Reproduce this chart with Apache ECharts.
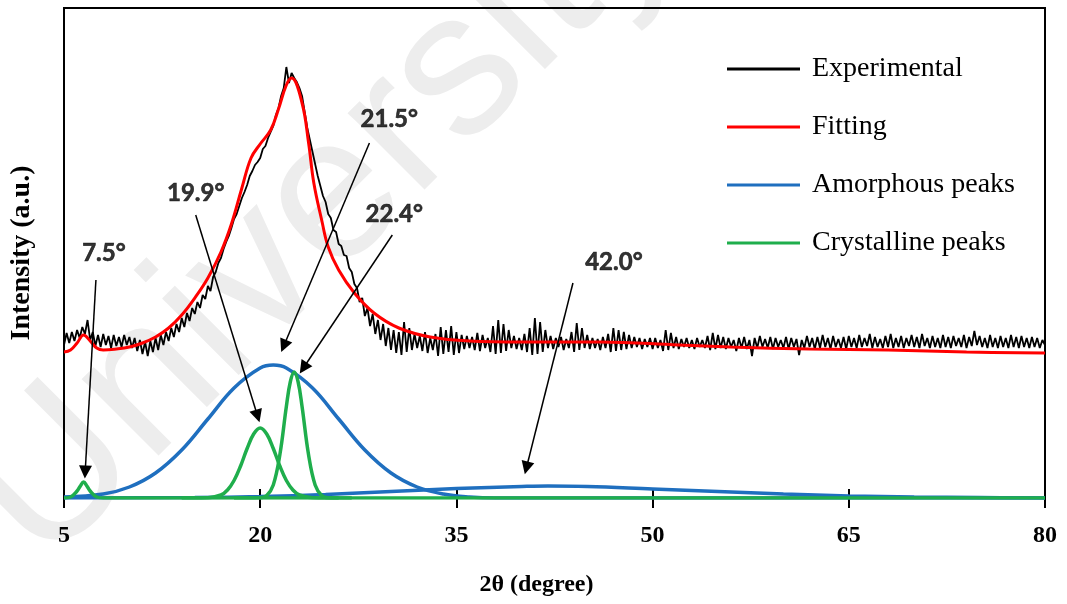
<!DOCTYPE html>
<html>
<head>
<meta charset="utf-8">
<script src="https://cdn.jsdelivr.net/npm/echarts@6/dist/echarts.min.js"></script>
<style>
html,body{margin:0;padding:0;background:#fff;}
#c{width:1067px;height:604px;}
</style>
</head>
<body>
<div id="c"></div>
<script>
// ---- data ----
const xTicks = [5, 20, 35, 50, 65, 80];
const expStart = 5, expStep = 0.2;
const expY = [
153,165,155,166,157,168,160,171,164,178,158,166,152,163,151,164,153,162,150,163,152,161,151,163,153,
161,150,160,147,158,144,156,142,157,146,160,148,163,153,166,157,170,161,174,166,180,171,185,177,190,
184,196,190,203,199,212,207,221,226,235,240,249,256,262,270,279,284,292,300,306,313,322,327,333,336,
340,349,352,360,366,372,383,390,402,410,431,415,425,420,416,410,402,386,370,358,346,334,322,312,302,
296,284,280,268,266,254,252,243,242,230,226,214,210,196,200,182,190,172,184,164,178,158,174,152,170,
148,168,145,166,143,176,146,170,148,164,150,162,147,166,145,160,148,164,142,171,144,168,146,172,143,
166,145,163,149,162,150,161,148,165,147,163,150,160,146,172,144,178,145,174,147,168,150,162,149,160,
148,164,146,170,143,180,144,176,146,168,150,162,149,160,151,161,148,159,150,166,146,175,148,170,150,
163,149,160,150,159,148,161,150,164,146,170,147,168,148,166,149,163,150,161,151,160,149,159,151,160,
149,160,150,158,147,168,148,165,150,161,149,159,151,160,150,158,149,160,151,158,150,162,148,165,149,
163,150,161,149,160,151,158,147,160,150,161,149,158,142,160,150,162,151,159,150,161,149,160,151,158,
150,161,149,160,151,159,143,158,150,162,151,160,149,161,150,163,151,160,149,162,151,159,150,161,149,
162,151,160,150,163,151,160,152,164,150,161,151,159,150,162,151,164,150,160,151,162,150,160,152,163,
151,161,150,164,152,160,150,162,151,160,150,163,151,161,150,162,152,160,151,163,150,161,152,167,153,
162,151,160,150,163,151,160,150,162,151,160,150,163,151,161,150,162,151,160,150,161,151,160,150,158,
153
];
const fitPts = [[5,146],[5.5,148],[6,155],[6.5,163],[7,157],[7.5,150],[8,148],[9,149],[10,151],[11,155],[12,161],[13,170],[14,183],[15,200],[16,220],[17,246],[17.8,274],[18.6,310],[19.3,340],[20,354],[20.8,368],[21.4,389],[22,413],[22.4,420],[23.2,395],[23.7,355],[24.1,315],[24.7,278],[25.2,251],[26,228],[27.2,205],[28.7,185],[30.6,170],[33,161],[36,157],[40,156],[46,156],[52,153],[56,151],[62,149],[68,148],[74,146],[80,145]];
const amorph1 = [[5,1],[8,4],[10,11],[12,25],[14,48],[16,79],[18,110],[20,130],[21,133],[22,130],[24,110],[26,79],[28,48],[30,25],[32,11],[34,4],[36,1],[38,0],[42,0],[80,0]];
const amorph2 = [[5,0],[15,0.5],[20,1.5],[25,3.5],[30,6.5],[35,9.5],[40,11.5],[42,12],[45,11.5],[50,9],[55,6.5],[60,4],[65,2],[70,1],[75,0.5],[80,0]];
const cryst1 = [[5,0],[5.5,1],[6,7],[6.25,12],[6.5,16],[6.75,12],[7,7],[7.5,1],[8,0],[8.5,0],[10,0],[15,0],[30,0],[55,0],[80,0]];
const cryst2 = [[14,0],[15,0],[16,0.3],[17,3],[17.5,8],[18,17.5],[18.5,32],[19,49.5],[19.5,64],[20,70],[20.5,64],[21,49.5],[21.5,32],[22,17.5],[22.5,8],[23,3],[24,0.3],[25,0],[26,0]];
const cryst3 = [[18,0],[19,0],[20,0.3],[20.5,2.5],[21,13],[21.5,43],[22,91.5],[22.3,116],[22.6,126],[22.9,116],[23.2,91.5],[23.7,43],[24.2,13],[24.7,2.5],[25.2,0.3],[26,0],[27,0]];
const annoText = ['7.5°','19.9°','21.5°','22.4°','42.0°'];
const annoAt = [[8.05,245],[15.07,305],[29.87,379],[30.25,284],[47.04,236]];
const annoArrow = [[[7.44,218],[6.62,26]],[[15.07,283],[19.80,82]],[[28.35,355],[21.80,152]],[[30.10,263],[23.30,130]],[[43.91,215],[40.35,30]]];

const expData = expY.map((v,i)=>[+(expStart+i*expStep).toFixed(2), v]);
const serif = '"Liberation Serif","Times New Roman",serif';
const GREEN = '#1fae4c', BLUE = '#1f6fbf', RED = '#ff0000';

const chart = echarts.init(document.getElementById('c'));
const lineBase = {type:'line', showSymbol:false, symbol:'none', smooth:0.4, animation:false};
chart.setOption({
  animation:false,
  graphic:[{
    type:'text', x:322, y:212, rotation:45*Math.PI/180, z:-10, silent:true,
    style:{text:'University', font:'205px "Liberation Sans", Arial, sans-serif', fill:'#ededed', textAlign:'center', textVerticalAlign:'middle'}
  }],
  grid:{left:62, right:22, top:8, bottom:106, show:true, borderColor:'#000', borderWidth:2, backgroundColor:'transparent'},
  legend:{
    data:['Experimental','Fitting','Amorphous peaks','Crystalline peaks'],
    orient:'vertical', left:722, top:49, itemWidth:73, itemHeight:3, itemGap:28, icon:'rect',
    textStyle:{fontFamily:serif, fontSize:28, color:'#000', lineHeight:30, padding:[0,0,0,7]}
  },
  xAxis:[{
    type:'value', min:5, max:80,
    axisLine:{show:true, lineStyle:{color:'#000', width:2}},
    axisTick:{show:true, length:10, customValues:xTicks, lineStyle:{color:'#000', width:2}},
    axisLabel:{customValues:xTicks, margin:26, fontFamily:serif, fontWeight:'bold', fontSize:24, color:'#000'},
    splitLine:{show:false},
    name:'2θ (degree)', nameLocation:'middle', nameGap:75,
    nameTextStyle:{fontFamily:serif, fontWeight:'bold', fontSize:24, color:'#000', padding:[0,36,0,0]}
  },{
    type:'value', min:5, max:80, position:'bottom', offset:0,
    axisLine:{show:false},
    axisTick:{show:true, inside:true, length:9, customValues:xTicks, lineStyle:{color:'#000', width:2}},
    axisLabel:{show:false}, splitLine:{show:false}
  }],
  yAxis:{
    type:'value', min:0, max:490,
    axisLine:{show:true, lineStyle:{color:'#000', width:2}},
    axisTick:{show:false}, axisLabel:{show:false}, splitLine:{show:false},
    name:'Intensity (a.u.)', nameLocation:'middle', nameGap:28, nameRotate:90,
    nameTextStyle:{fontFamily:serif, fontWeight:'bold', fontSize:28, color:'#000'}
  },
  series:[
    Object.assign({}, lineBase, {name:'Experimental', data:expData, smooth:false, lineStyle:{color:'#000', width:1.8}, itemStyle:{color:'#000'}, z:2}),
    Object.assign({}, lineBase, {name:'Fitting', data:fitPts, lineStyle:{color:RED, width:3}, itemStyle:{color:RED}, z:3}),
    Object.assign({}, lineBase, {name:'Amorphous peaks', data:amorph1, lineStyle:{color:BLUE, width:3.5}, itemStyle:{color:BLUE}, z:4}),
    Object.assign({}, lineBase, {name:'Amorphous peaks', data:amorph2, lineStyle:{color:BLUE, width:3.5}, itemStyle:{color:BLUE}, z:4}),
    Object.assign({}, lineBase, {name:'Crystalline peaks', data:cryst1, lineStyle:{color:GREEN, width:3.5}, itemStyle:{color:GREEN}, z:5}),
    Object.assign({}, lineBase, {name:'Crystalline peaks', data:cryst2, lineStyle:{color:GREEN, width:3.5}, itemStyle:{color:GREEN}, z:5}),
    Object.assign({}, lineBase, {name:'Crystalline peaks', data:cryst3, lineStyle:{color:GREEN, width:3.5}, itemStyle:{color:GREEN}, z:5}),
    {
      type:'lines', name:'arrows', coordinateSystem:'cartesian2d', z:6, animation:false, silent:true,
      symbol:['none','triangle'], symbolSize:[0,13],
      itemStyle:{color:'#000'},
      lineStyle:{color:'#000', width:1.5, opacity:1, curveness:0},
      data: annoArrow.map(c=>({coords:c}))
    },
    {
      type:'scatter', name:'labels', symbolSize:0, z:7, animation:false, silent:true,
      itemStyle:{color:'#000'},
      data: annoAt.map((p,i)=>({value:p, name:annoText[i]})),
      label:{show:true, position:'inside', formatter:p=>p.name, fontFamily:'Lato, "Liberation Sans", sans-serif', fontWeight:'bold', fontSize:24, color:'#000', textBorderColor:'#000', textBorderWidth:0.6}
    }
  ]
});
</script>
</body>
</html>
